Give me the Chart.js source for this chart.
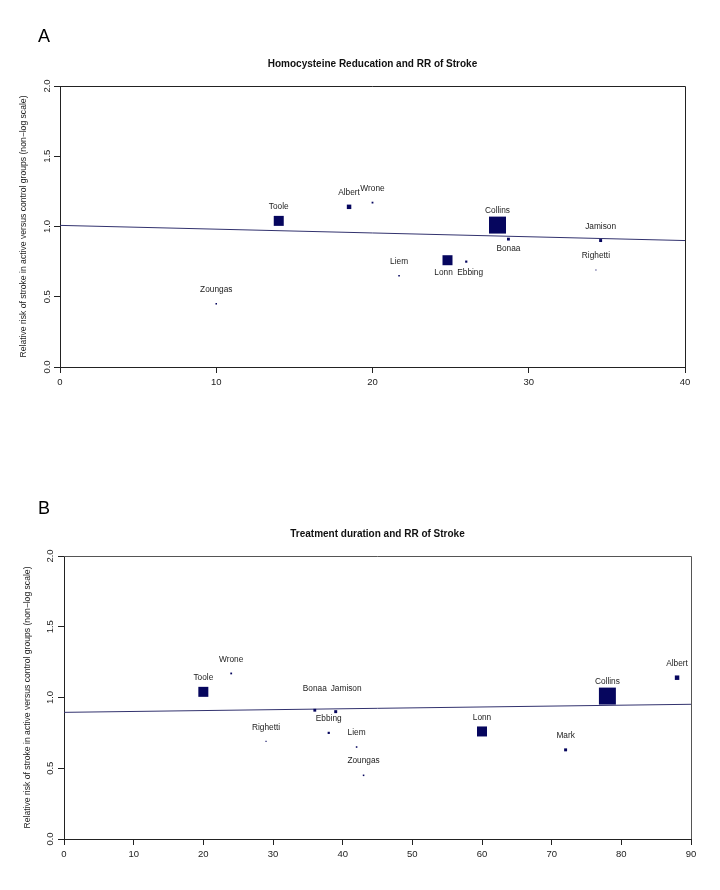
<!DOCTYPE html>
<html><head><meta charset="utf-8">
<script src="https://cdn.jsdelivr.net/npm/chart.js@4.4.1/dist/chart.umd.min.js"></script>
<style>
html,body{margin:0;padding:0;background:#fff;}
#wrap{position:relative;width:720px;height:890px;background:#fff;}
canvas{position:absolute;left:0;}
</style></head><body>
<div id="wrap">
<canvas id="cA" width="720" height="445" style="top:0"></canvas>
<canvas id="cB" width="720" height="445" style="top:445px"></canvas>
</div>
<script>
// ---------- Panel A data: homocysteine reduction (%) vs RR of stroke ----------
const studiesA   = ['Toole','Albert','Wrone','Zoungas','Collins','Bonaa','Jamison','Righetti','Liem','Lonn','Ebbing'];
const hcyReduction = [14.0, 18.5, 20.0, 10.0, 28.0, 28.7, 34.6, 34.3, 21.7, 24.8, 26.0];
const rrA        = [1.04, 1.14, 1.17, 0.45, 1.01, 0.91, 0.90, 0.69, 0.65, 0.76, 0.75];
const weightA    = [25, 5, 0.8, 0.6, 72, 2, 2.2, 0.3, 0.6, 25, 1.2];
const fitXA      = [0, 40];
const fitYA      = [1.008, 0.90];
const xTicksA    = [0, 10, 20, 30, 40];

// ---------- Panel B data: treatment duration (months) vs RR of stroke ----------
const studiesB   = ['Toole','Wrone','Righetti','Bonaa','Jamison','Ebbing','Liem','Zoungas','Lonn','Mark','Collins','Albert'];
const duration   = [20, 24, 29, 36, 39, 38, 42, 43, 60, 72, 78, 88];
const rrB        = [1.04, 1.17, 0.69, 0.91, 0.90, 0.75, 0.65, 0.45, 0.76, 0.63, 1.01, 1.14];
const weightB    = [25, 0.8, 0.3, 2, 2.2, 1.2, 0.6, 0.6, 25, 2.2, 72, 5];
const fitXB      = [0, 90];
const fitYB      = [0.895, 0.952];
const xTicksB    = [0, 10, 20, 30, 40, 50, 60, 70, 80, 90];

const yTicks     = [0, 0.5, 1.0, 1.5, 2.0];

// label nudges (data units) — default is 0.1 above the point
const labelNudgeA = {Bonaa:[0,-0.07], Lonn:[-0.25,-0.09], Ebbing:[0.25,-0.08]};
const labelNudgeB = {Bonaa:[0,0.15], Jamison:[1.5,0.16]};

const FONT = '"Liberation Sans", Arial, sans-serif';
const NAVY = '#06065e';
const INK = '#222';

const annot = {
  id: 'annot',
  afterDatasetsDraw(chart, args, o) {
    const ctx = chart.ctx, ca = chart.chartArea;
    const xs = chart.scales.x, ys = chart.scales.y;
    ctx.save();
    // frame: top & right edges
    ctx.strokeStyle = o.frameColor; ctx.lineWidth = 1;
    ctx.beginPath();
    const t = Math.round(ca.top) + 0.5, r = Math.round(ca.right) + 0.5;
    ctx.moveTo(Math.round(ca.left), t); ctx.lineTo(r, t); ctx.lineTo(r, Math.round(ca.bottom));
    ctx.stroke();
    // point labels
    ctx.font = '8.3px ' + FONT; ctx.fillStyle = INK;
    ctx.textAlign = 'center'; ctx.textBaseline = 'middle';
    o.labels.forEach(l => ctx.fillText(l.text, xs.getPixelForValue(l.x), ys.getPixelForValue(l.y)));
    // title
    ctx.font = 'bold 10px ' + FONT; ctx.fillStyle = '#111';
    ctx.fillText(o.title, (ca.left + ca.right) / 2, ca.top - 21.5);
    // panel letter
    ctx.font = '18px ' + FONT; ctx.textAlign = 'left'; ctx.textBaseline = 'alphabetic';
    ctx.fillStyle = '#000';
    ctx.fillText(o.letter, o.letterX, o.letterY);
    ctx.restore();
  }
};

function side(w) { return 2 * Math.sqrt(w); }

function makeChart(id, cfg) {
  const pts = cfg.xs.map((x, i) => ({x, y: cfg.ys[i]}));
  const radii = cfg.w.map(w => side(w) / Math.SQRT2);
  const labels = cfg.names.map((n, i) => {
    const nd = cfg.nudge[n] || [0, 0.1];
    return {text: n, x: cfg.xs[i] + nd[0], y: cfg.ys[i] + nd[1]};
  });
  return new Chart(document.getElementById(id), {
    data: {
      datasets: [
        { type: 'line', data: cfg.fitX.map((x, i) => ({x, y: cfg.fitY[i]})),
          borderColor: '#32326e', borderWidth: 1, pointRadius: 0, fill: false, order: 2 },
        { type: 'scatter', data: pts, pointStyle: 'rect', pointRadius: radii,
          pointHoverRadius: radii, backgroundColor: NAVY, borderWidth: 0, order: 1 }
      ]
    },
    options: {
      responsive: false, animation: false, devicePixelRatio: 1,
      layout: { padding: { top: cfg.top, right: cfg.right, left: 0, bottom: 0 } },
      plugins: { legend: { display: false }, tooltip: { enabled: false },
        annot: { labels, title: cfg.title, letter: cfg.letter, letterX: cfg.letterX, letterY: cfg.letterY, frameColor: cfg.frameColor } },
      scales: {
        x: { type: 'linear', min: cfg.xTicks[0], max: cfg.xTicks[cfg.xTicks.length - 1],
          afterBuildTicks: s => { s.ticks = cfg.xTicks.map(v => ({value: v})); },
          afterFit: s => { s.height = cfg.xh; },
          ticks: { font: { family: FONT, size: 9.5 }, color: INK, padding: 4, maxRotation: 0, autoSkip: false },
          grid: { drawOnChartArea: false, drawTicks: true, tickLength: 6, color: INK },
          border: { display: true, color: INK, width: 1 } },
        y: { type: 'linear', min: 0, max: 2,
          afterBuildTicks: s => { s.ticks = yTicks.map(v => ({value: v})); },
          afterFit: s => { s.width = cfg.yw; },
          ticks: { font: { family: FONT, size: 9.5 }, color: INK, padding: cfg.ytp, minRotation: 90, maxRotation: 90,
            crossAlign: 'center', callback: v => Number(v).toFixed(1) },
          grid: { drawOnChartArea: false, drawTicks: true, tickLength: 6, color: INK },
          border: { display: true, color: INK, width: 1 },
          title: { display: true, text: 'Relative risk of stroke in active versus control groups (non\u2212log scale)',
            font: { family: FONT, size: 8.6 }, color: INK, padding: { top: cfg.ttp, bottom: 0 } } }
      }
    },
    plugins: [annot]
  });
}

makeChart('cA', {
  names: studiesA, xs: hcyReduction, ys: rrA, w: weightA, fitX: fitXA, fitY: fitYA, xTicks: xTicksA,
  nudge: labelNudgeA, title: 'Homocysteine Reducation and RR of Stroke', letter: 'A',
  letterX: 38, letterY: 42, top: 86, right: 35, xh: 78, yw: 60, ytp: 0.5, ttp: 18, frameColor: '#222'
});
makeChart('cB', {
  names: studiesB, xs: duration, ys: rrB, w: weightB, fitX: fitXB, fitY: fitYB, xTicks: xTicksB,
  nudge: labelNudgeB, title: 'Treatment duration and RR of Stroke', letter: 'B',
  letterX: 38, letterY: 69, top: 111, right: 29, xh: 51, yw: 64, ytp: 1.5, ttp: 22, frameColor: '#555'
});
</script>
</body></html>
